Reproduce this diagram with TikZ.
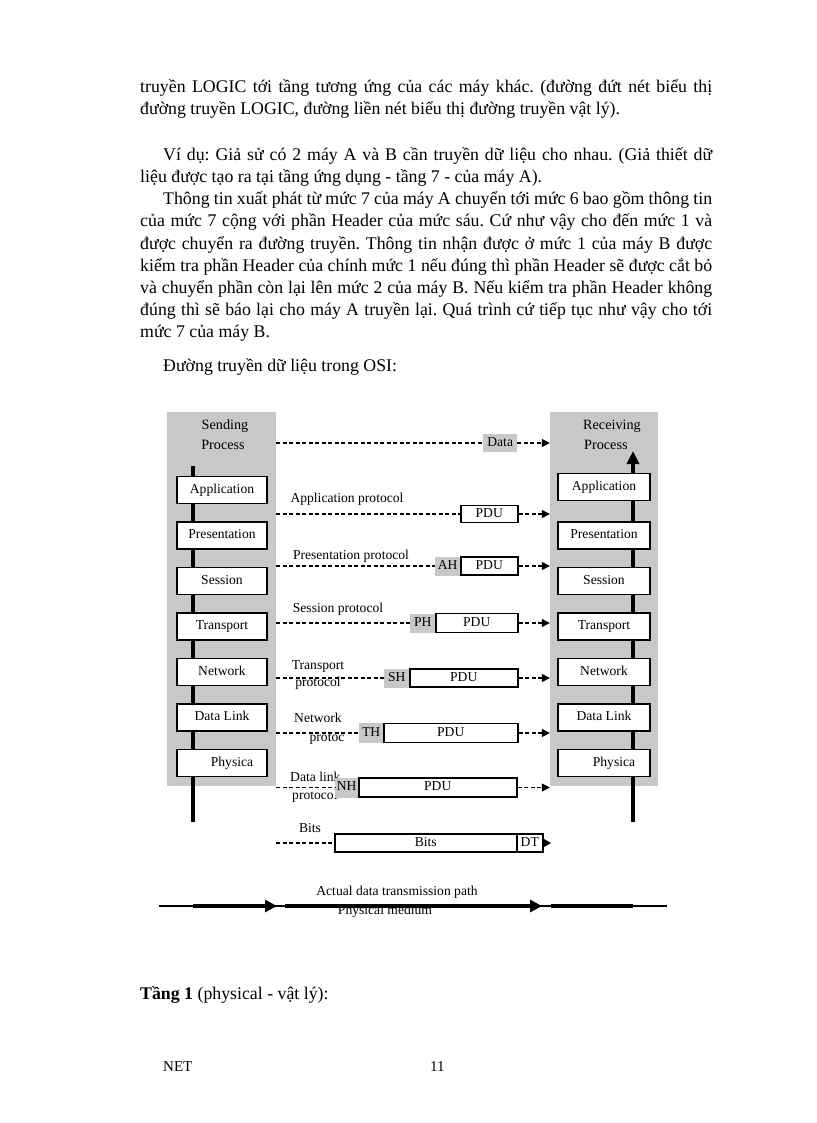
\documentclass[tikz,border=0pt]{standalone}
\usepackage{fontspec}
\setmainfont{Liberation Serif}
\usetikzlibrary{arrows.meta}
\definecolor{panelgray}{RGB}{200,200,200}
\newcommand{\bodyfont}{\fontsize{17.8}{22}\selectfont}
\newcommand{\dfont}{\fontsize{13.6}{15}\selectfont}
\newcommand{\hfont}{\fontsize{14.2}{16}\selectfont}
\newcommand{\footfont}{\fontsize{15}{18}\selectfont}
\frenchspacing
\begin{document}
\begin{tikzpicture}[x=1pt,y=-1pt,
  panel/.style={fill=panelgray, draw=none, inner sep=0},
  layer/.style={draw, line width=1.3pt, fill=white, minimum width=#1, minimum height=27pt, inner sep=0, font=\dfont, text height=9.5pt, text depth=3pt},
  layer/.default=90pt,
  pdubox/.style={draw, line width=1.5pt, fill=white, inner sep=0, anchor=west, font=\dfont, text height=9.5pt, text depth=3pt},
  hdrbox/.style={fill=panelgray, inner sep=0, anchor=west, font=\dfont, text height=9.5pt, text depth=3pt},
  lbl/.style={inner sep=0, font=\dfont, text height=9.5pt, text depth=3pt},
  body/.style={inner sep=0, anchor=base west, font=\bodyfont},
  dl/.style={dash pattern=on 4pt off 2.5pt, line width=1.3pt},
  darr/.style={dl, -{Triangle[length=8pt,width=8pt]}},
  heavy/.style={line width=4pt},
]
\useasboundingbox[fill=white] (0,0) rectangle (816,1123);

% ---------- body text ----------
\node[body] (t1) at (140,93) {\makebox[572pt][s]{truyền LOGIC tới tầng tương ứng của các máy khác. (đường đứt nét biểu thị}};
\node[body] (t2) at (140,115) {đường truyền LOGIC, đường liền nét biểu thị đường truyền vật lý).};
\node[body] (t3) at (163,161) {\makebox[549pt][s]{Ví dụ: Giả sử có 2 máy A và B cần truyền dữ liệu cho nhau. (Giả thiết dữ}};
\node[body] (t4) at (140,183) {liệu được tạo ra tại tầng ứng dụng - tầng 7 - của máy A).};
\node[body] (t5) at (163,205) {\makebox[549pt][s]{Thông tin xuất phát từ mức 7 của máy A chuyển tới mức 6 bao gồm thông tin}};
\node[body] (t6) at (140,227) {\makebox[572pt][s]{của mức 7 cộng với phần Header của mức sáu. Cứ như vậy cho đến mức 1 và}};
\node[body] (t7) at (140,249) {\makebox[572pt][s]{được chuyển ra đường truyền. Thông tin nhận được ở mức 1 của máy B được}};
\node[body] (t8) at (140,271) {\makebox[572pt][s]{kiểm tra phần Header của chính mức 1 nếu đúng thì phần Header sẽ được cắt bỏ}};
\node[body] (t9) at (140,293) {\makebox[572pt][s]{và chuyển phần còn lại lên mức 2 của máy B. Nếu kiểm tra phần Header không}};
\node[body] (t10) at (140,315) {\makebox[572pt][s]{đúng thì sẽ báo lại cho máy A truyền lại. Quá trình cứ tiếp tục như vậy cho tới}};
\node[body] (t11) at (140,337) {mức 7 của máy B.};
\node[body] (t12) at (163,371) {Đường truyền dữ liệu trong OSI:};

% ---------- panels ----------
\node[panel, minimum width=109pt, minimum height=374pt] (panelL) at (221.5,599) {};
\node[panel, minimum width=108pt, minimum height=374pt] (panelR) at (604,599) {};
\node[lbl, font=\hfont] (sendA) at (225,426) {Sending};
\node[lbl, font=\hfont] (sendB) at (223,446) {Process};
\node[lbl, font=\hfont, anchor=west] (recvA) at (583,426) {Receiving};
\node[lbl, font=\hfont, anchor=west] (recvB) at (584,446) {Process};

% ---------- vertical stacks ----------
\coordinate (ltop) at (193,466);
\coordinate (lbot) at (193,822);
\coordinate (rtop) at (633,451);
\coordinate (rbot) at (633,822);
\draw[heavy] (ltop) -- (lbot);
\draw[heavy, -{Triangle[length=13pt,width=12pt]}] (rbot) -- (rtop);

\node[layer] (L1) at (222,490) {Application};
\node[layer] (L2) at (222,535.5) {Presentation};
\node[layer] (L3) at (222,581) {Session};
\node[layer] (L4) at (222,626.5) {Transport};
\node[layer] (L5) at (222,672) {Network};
\node[layer] (L6) at (222,717.5) {Data Link};
\node[layer] (L7) at (222,763) {\hspace*{20pt}Physica};

\node[layer=92pt] (R1) at (604,487) {Application};
\node[layer=92pt] (R2) at (604,535.5) {Presentation};
\node[layer=92pt] (R3) at (604,581) {Session};
\node[layer=92pt] (R4) at (604,626.5) {Transport};
\node[layer=92pt] (R5) at (604,672) {Network};
\node[layer=92pt] (R6) at (604,717.5) {Data Link};
\node[layer=92pt] (R7) at (604,763) {\hspace*{20pt}Physica};

% ---------- protocol labels ----------
\node[lbl] (lab1) at (347,499) {Application protocol};
\node[lbl] (lab2) at (351,556) {Presentation protocol};
\node[lbl] (lab3) at (338,609) {Session protocol};
\node[lbl] (lab4a) at (318,666) {Transport};
\node[lbl] (lab4b) at (318,683) {protocol};
\node[lbl] (lab5a) at (318,719) {Network};
\node[lbl] (lab5b) at (327,738) {protoc};
\node[lbl, anchor=west] (lab6a) at (290,778) {Data link};
\node[lbl, anchor=west] (lab6b) at (292,796) {protocol};
\node[lbl] (lab7) at (310,829) {Bits};

% ---------- data units ----------
\node[hdrbox, minimum width=34pt, minimum height=18pt] (dataH) at (483,443) {Data};

\node[pdubox, minimum width=57pt, minimum height=17pt] (P1) at (460,514) {PDU};

\node[hdrbox, minimum width=25pt, minimum height=19pt] (AH) at (435,566) {AH};
\node[pdubox, minimum width=57pt, minimum height=18pt] (P2) at (460,566) {PDU};

\node[hdrbox, minimum width=25pt, minimum height=19pt] (PH) at (410,623) {PH};
\node[pdubox, minimum width=82pt, minimum height=19pt] (P3) at (435,623) {PDU};

\node[hdrbox, minimum width=25pt, minimum height=19pt] (SH) at (384,678) {SH};
\node[pdubox, minimum width=108pt, minimum height=18pt] (P4) at (409,678) {PDU};

\node[hdrbox, minimum width=24pt, minimum height=20pt] (TH) at (359,733) {TH};
\node[pdubox, minimum width=134pt, minimum height=19pt] (P5) at (383,733) {PDU};

\node[hdrbox, minimum width=23pt, minimum height=20pt] (NH) at (335,787.5) {NH};
\node[pdubox, minimum width=158pt, minimum height=19pt] (P6) at (358,787.5) {PDU};

\node[pdubox, minimum width=182pt, minimum height=18pt] (bits) at (334,843) {Bits};
\node[pdubox, minimum width=26pt, minimum height=18pt] (DT) at (516,843) {DT};

% ---------- logical (dashed) connectors ----------
\draw[dl] (panelL.east |- dataH.west) -- (dataH.west);
\draw[darr] (dataH.east) -- (panelR.west |- dataH.east);
\draw[dl] (panelL.east |- P1.west) -- (P1.west);
\draw[darr] (P1.east) -- (panelR.west |- P1.east);
\draw[dl] (panelL.east |- AH.west) -- (AH.west);
\draw[darr] (P2.east) -- (panelR.west |- P2.east);
\draw[dl] (panelL.east |- PH.west) -- (PH.west);
\draw[darr] (P3.east) -- (panelR.west |- P3.east);
\draw[dl] (panelL.east |- SH.west) -- (SH.west);
\draw[darr] (P4.east) -- (panelR.west |- P4.east);
\draw[dl] (panelL.east |- TH.west) -- (TH.west);
\draw[darr] (P5.east) -- (panelR.west |- P5.east);
\draw[dl] (panelL.east |- NH.west) -- (NH.west);
\draw[darr] (P6.east) -- (panelR.west |- P6.east);
\draw[dl] (panelL.east |- bits.west) -- (bits.west);
\coordinate (dtend) at (551,843);
\draw[line width=1.3pt, -{Triangle[length=9pt,width=10pt]}] (DT.east) -- (dtend);

% ---------- physical medium ----------
\node[lbl] (act) at (397,892) {Actual data transmission path};
\node[lbl] (phys) at (385,911) {Physical medium};
\coordinate (m0) at (159,906);
\coordinate (m1) at (667,906);
\coordinate (a0) at (193,906);
\coordinate (a1) at (277,906);
\coordinate (b0) at (285,906);
\coordinate (b1) at (542,906);
\coordinate (c0) at (551,906);
\coordinate (c1) at (633,906);
\draw[line width=1.5pt] (m0) -- (m1);
\draw[heavy, -{Triangle[length=12pt,width=12pt]}] (a0) -- (a1);
\draw[heavy, -{Triangle[length=12pt,width=12pt]}] (b0) -- (b1);
\draw[heavy] (c0) -- (c1);

% ---------- trailing text ----------
\node[body] (t13) at (140,999) {\textbf{Tầng 1} (physical - vật lý):};
\node[body, font=\footfont] (foot1) at (163,1071) {NET};
\node[body, font=\footfont] (foot2) at (430,1071) {11};
\end{tikzpicture}
\end{document}
